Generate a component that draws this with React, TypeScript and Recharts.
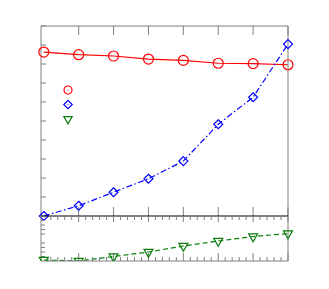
import React from 'react';
import { LineChart, Line, XAxis, YAxis, Legend } from 'recharts';

// x positions of the samples
const xs = [0, 1, 2, 3, 4, 5, 6, 7];
// upper panel
const circleVals = [8.63, 8.49, 8.42, 8.26, 8.19, 8.04, 8.02, 7.96];
const diamondVals = [0, 0.54, 1.25, 1.96, 2.89, 4.83, 6.25, 9.05];
// lower panel
const triangleVals = [0.22, 0, 1.0, 2.0, 3.33, 4.44, 5.44, 6.11];

const majorX = [1, 2, 3, 4, 5, 6, 7];
const minorX = Array.from({ length: 35 }, (_, i) => Math.round((i + 1) * 0.2 * 10) / 10).filter(
  (v) => !Number.isInteger(v)
);
const leftTicks = [0, 1, 2, 3, 4, 5, 6, 7, 8, 9, 10];
const rightTicks = [0, 1, 2, 3, 4, 5, 6, 7, 8];
const lowerMinorY = [1, 2, 3, 4, 6, 7, 8, 9];
const lowerMajorY = [5];

const RED = '#ff0000';
const BLUE = '#0000ff';
const GREEN = '#0a7d0a';
const GRAY = '#808080';
const THIN = 0.001; // axes need a non-zero size to be drawn
const noLabel = () => '';

const legendItems = [
  { key: 'circle', color: RED },
  { key: 'diamond', color: BLUE },
  { key: 'triangle', color: GREEN },
];

const upperData = xs.map((x, i) => ({ x, circle: circleVals[i], diamond: diamondVals[i] }));
const lowerData = xs.map((x, i) => ({ x, triangle: triangleVals[i] }));

const marker = (kind: string, cx: number, cy: number, color: string, s: number, key: string) => {
  if (kind === 'circle') {
    return <circle key={key} cx={cx} cy={cy} r={s} fill="none" stroke={color} strokeWidth={1.2} />;
  }
  if (kind === 'diamond') {
    return (
      <path
        key={key}
        d={`M${cx},${cy - s}L${cx + s},${cy}L${cx},${cy + s}L${cx - s},${cy}Z`}
        fill="none"
        stroke={color}
        strokeWidth={1.2}
      />
    );
  }
  const h = s * 0.58;
  return (
    <path
      key={key}
      d={`M${cx - s},${cy - h}L${cx + s},${cy - h}L${cx},${cy + 2 * h}Z`}
      fill="none"
      stroke={color}
      strokeWidth={1.2}
    />
  );
};

const dotFor = (kind: string, color: string, s: number) => (props: any) =>
  marker(kind, props.cx, props.cy, color, s, `${kind}-${props.index}`);

const LegendBox = () => (
  <svg width={14} height={44}>
    {legendItems.map((it, i) => (
      <g key={it.key}>
        {marker(it.key, 7, 6 + i * 14.5, it.color, it.key === 'circle' ? 4 : 4.2, it.key)}
        {it.key !== 'triangle' && <circle cx={7} cy={6 + i * 14.5} r={0.6} fill={it.color} />}
      </g>
    ))}
  </svg>
);

const App: React.FC = () => {
  return (
    <div style={{ position: 'absolute', left: 0, top: 0, width: 329, height: 289, background: '#fff' }}>
      <div style={{ position: 'absolute', left: 0, top: 0 }}>
        <LineChart width={329} height={289} data={upperData} margin={{ top: 26, right: 41, bottom: 73, left: 41 }}>
          <XAxis xAxisId="top" orientation="top" dataKey="x" type="number" domain={[-0.08, 7]}
            ticks={majorX} interval={0} mirror height={THIN} tickSize={9} tickFormatter={noLabel}
            axisLine={{ stroke: GRAY }} tickLine={{ stroke: GRAY }} />
          <XAxis xAxisId="bot" orientation="bottom" dataKey="x" type="number" domain={[-0.08, 7]}
            ticks={majorX} interval={0} mirror height={THIN} tickSize={9} tickFormatter={noLabel}
            axisLine={false} tickLine={{ stroke: GRAY }} />
          <YAxis yAxisId="l" orientation="left" type="number" domain={[0, 10]} ticks={leftTicks}
            interval={0} mirror width={THIN} tickSize={5} tickFormatter={noLabel}
            axisLine={{ stroke: GRAY }} tickLine={{ stroke: GRAY }} />
          <YAxis yAxisId="r" orientation="right" type="number" domain={[0, 190 / 21]} ticks={rightTicks}
            interval={0} mirror width={THIN} tickSize={8} tickFormatter={noLabel}
            axisLine={{ stroke: GRAY }} tickLine={{ stroke: GRAY }} />
          <Legend layout="vertical" align="center" verticalAlign="middle" content={() => <LegendBox />}
            wrapperStyle={{ position: 'absolute', left: 61, top: 84, width: 14, height: 44 }} />
          <Line xAxisId="bot" yAxisId="l" dataKey="circle" stroke={RED} strokeWidth={1.2}
            dot={dotFor('circle', RED, 5)} isAnimationActive={false} />
          <Line xAxisId="bot" yAxisId="l" dataKey="diamond" stroke={BLUE} strokeWidth={1.2}
            strokeDasharray="6 2.5 1.5 2.5" dot={dotFor('diamond', BLUE, 4.5)} isAnimationActive={false} />
        </LineChart>
      </div>
      <div style={{ position: 'absolute', left: 0, top: 0 }}>
        <LineChart width={329} height={289} data={lowerData} margin={{ top: 216, right: 41, bottom: 28, left: 41 }}>
          <XAxis xAxisId="top" orientation="top" dataKey="x" type="number" domain={[-0.08, 7]}
            ticks={majorX} interval={0} mirror height={THIN} tickSize={6} tickFormatter={noLabel}
            axisLine={{ stroke: '#000', strokeWidth: 1.2 }} tickLine={{ stroke: GRAY }} />
          <XAxis xAxisId="topm" orientation="top" dataKey="x" type="number" domain={[-0.08, 7]}
            ticks={minorX} interval={0} mirror height={THIN} tickSize={4} tickFormatter={noLabel}
            axisLine={false} tickLine={{ stroke: GRAY }} />
          <XAxis xAxisId="bot" orientation="bottom" dataKey="x" type="number" domain={[-0.08, 7]}
            ticks={majorX} interval={0} mirror height={THIN} tickSize={8} tickFormatter={noLabel}
            axisLine={{ stroke: GRAY }} tickLine={{ stroke: GRAY }} />
          <XAxis xAxisId="botm" orientation="bottom" dataKey="x" type="number" domain={[-0.08, 7]}
            ticks={minorX} interval={0} mirror height={THIN} tickSize={4} tickFormatter={noLabel}
            axisLine={false} tickLine={{ stroke: GRAY }} />
          <YAxis yAxisId="l" orientation="left" type="number" domain={[0, 10]} ticks={lowerMinorY}
            interval={0} mirror width={THIN} tickSize={4} tickFormatter={noLabel} allowDataOverflow
            axisLine={{ stroke: GRAY }} tickLine={{ stroke: GRAY }} />
          <YAxis yAxisId="lm" orientation="left" type="number" domain={[0, 10]} ticks={lowerMajorY}
            interval={0} mirror width={THIN} tickSize={8} tickFormatter={noLabel}
            axisLine={false} tickLine={{ stroke: GRAY }} />
          <YAxis yAxisId="r" orientation="right" type="number" domain={[0, 10]} ticks={lowerMinorY}
            interval={0} mirror width={THIN} tickSize={4} tickFormatter={noLabel}
            axisLine={{ stroke: GRAY }} tickLine={{ stroke: GRAY }} />
          <YAxis yAxisId="rm" orientation="right" type="number" domain={[0, 10]} ticks={lowerMajorY}
            interval={0} mirror width={THIN} tickSize={7} tickFormatter={noLabel}
            axisLine={false} tickLine={{ stroke: GRAY }} />
          <Line xAxisId="bot" yAxisId="l" dataKey="triangle" stroke={GREEN} strokeWidth={1.2}
            strokeDasharray="5 3" dot={dotFor('triangle', GREEN, 4.5)} isAnimationActive={false} />
        </LineChart>
      </div>
    </div>
  );
};

export default App;
